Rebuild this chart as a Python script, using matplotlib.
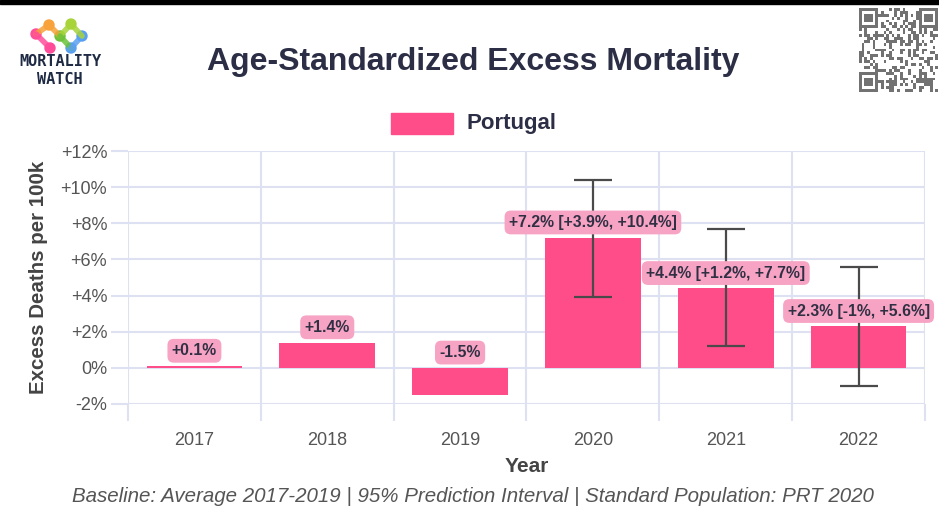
import numpy as np
import matplotlib
matplotlib.use("Agg")
import matplotlib.pyplot as plt
from matplotlib.patches import Rectangle, Circle

plt.rcParams['font.family'] = ['Liberation Sans', 'DejaVu Sans']

# excess mortality by year, % of baseline
years = ['2017', '2018', '2019', '2020', '2021', '2022']
excess = [0.1, 1.4, -1.5, 7.2, 4.4, 2.3]
pi_low = [None, None, None, 3.9, 1.2, -1.0]
pi_high = [None, None, None, 10.4, 7.7, 5.6]
yticks = [-2, 0, 2, 4, 6, 8, 10, 12]

bar_color = '#ff4d8a'
label_bg = '#f7a3c3'
grid_color = '#dde1f2'
text_dark = '#2b2e45'

W, H = 939, 529
fig = plt.figure(figsize=(W / 100, H / 100), dpi=100)
fig.patch.set_facecolor('white')

ax = fig.add_axes([128 / W, 1 - 404 / H, (925 - 128) / W, (404 - 151) / H])
x = np.arange(len(years))
ax.bar(x, excess, width=0.72, color=bar_color, zorder=2)

# prediction intervals only exist for the pandemic years
for i, (v, lo, hi) in enumerate(zip(excess, pi_low, pi_high)):
    if lo is not None:
        ax.errorbar(i, v, yerr=[[v - lo], [hi - v]], fmt='none',
                    ecolor='#4a4a4a', elinewidth=1.6, capsize=13.5,
                    capthick=1.6, zorder=4)

def fmt(v):
    if v == 0:
        return '0%'
    s = f'{v:+.1f}'.rstrip('0').rstrip('.')
    return s + '%'

for i, (v, lo, hi) in enumerate(zip(excess, pi_low, pi_high)):
    txt = fmt(v)
    if lo is not None:
        txt += f' [{fmt(lo)}, {fmt(hi)}]'
    ax.annotate(txt, (i, max(v, 0)), xytext=(0, 11), textcoords='offset points',
                ha='center', va='center', fontsize=11.3, fontweight='bold',
                color='#303044', zorder=5, annotation_clip=False,
                bbox=dict(boxstyle='round,pad=0.28,rounding_size=0.4',
                          fc=label_bg, ec='none'))

ax.set_xlim(-0.5, len(years) - 0.5)
ax.set_ylim(yticks[0], yticks[-1])
ax.set_yticks(yticks)
ax.set_yticklabels(['0%' if t == 0 else f'{t:+d}%' for t in yticks])
ax.set_xticks(x)
ax.set_xticklabels(years)
ax.set_xticks(np.arange(-0.5, len(years)), minor=True)

ax.tick_params(axis='y', length=12, width=1.5, color=grid_color, pad=3,
               labelsize=13, labelcolor='#555555')
ax.tick_params(axis='x', which='major', length=0, pad=20,
               labelsize=13, labelcolor='#555555')
ax.tick_params(axis='x', which='minor', length=12, width=1.5, color=grid_color)

ax.grid(axis='y', color=grid_color, lw=1.5, zorder=0)
ax.grid(axis='x', which='minor', color=grid_color, lw=1.5, zorder=0)
for s in ax.spines.values():
    s.set_visible(False)

ax.set_xlabel('Year', fontsize=15, fontweight='bold', color='#444444', labelpad=6)
ax.set_ylabel('Excess Deaths per 100k', fontsize=14.8, fontweight='bold',
              color='#444444', labelpad=9)

# title, legend and caption
fig.text(473 / W, 1 - 62 / H, 'Age-Standardized Excess Mortality',
         ha='center', va='center', fontsize=23, fontweight='bold', color=text_dark)
fig.text(473 / W, 1 - 497 / H,
         'Baseline: Average 2017-2019 | 95% Prediction Interval | Standard Population: PRT 2020',
         ha='center', va='center', fontsize=14.8, style='italic', color='#555555')

# overlay in pixel coordinates for legend, logo and qr block
ov = fig.add_axes([0, 0, 1, 1], zorder=10)
ov.set_xlim(0, W)
ov.set_ylim(H, 0)
ov.axis('off')
ov.patch.set_alpha(0)

ov.add_patch(Rectangle((0, 0), W, 4, color='black'))
ov.add_patch(Rectangle((391, 113), 62, 21, color=bar_color))
ov.text(466, 124, 'Portugal', ha='left', va='center', fontsize=16,
        fontweight='bold', color=text_dark)

# logo: small network of coloured nodes
nodes = {'o': (49, 25, '#f7a23b'), 'y': (71, 24, '#a8d43a'), 'p': (36, 34, '#ff4d9a'),
         'g': (60, 36, '#6cc23a'), 'b': (82, 36, '#5aa0f0'), 'p2': (50, 48, '#ff4d9a'),
         'b2': (71, 48, '#5aa0f0')}
links = [('o', 'p'), ('o', 'g'), ('y', 'g'), ('p', 'p2'), ('g', 'b2'), ('b', 'b2'), ('y', 'b')]
for a, b in links:
    ov.plot([nodes[a][0], nodes[b][0]], [nodes[a][1], nodes[b][1]],
            color=nodes[a][2], lw=4, solid_capstyle='round', alpha=0.85)
for nx, ny, c in nodes.values():
    ov.add_patch(Circle((nx, ny), 5, color=c))
ov.text(60, 62, 'MORTALITY', ha='center', va='center', fontsize=11,
        fontweight='bold', color='#1f2a44', family='DejaVu Sans Mono')
ov.text(60, 79, 'WATCH', ha='center', va='center', fontsize=11,
        fontweight='bold', color='#1f2a44', family='DejaVu Sans Mono')

# qr-like block
n = 29
ii, jj = np.meshgrid(np.arange(n), np.arange(n), indexing='ij')
qr = (((ii * 7 + jj * 13) ^ (ii * jj + 3)) % 5 < 2).astype(float)
for r0, c0 in [(0, 0), (0, n - 7), (n - 7, 0)]:
    qr[r0:r0 + 7, c0:c0 + 7] = 1
    qr[r0 + 1:r0 + 6, c0 + 1:c0 + 6] = 0
    qr[r0 + 2:r0 + 5, c0 + 2:c0 + 5] = 1
ov.imshow(qr, cmap='Greys', vmin=0, vmax=1.6, extent=(859, 938, 92, 8),
          interpolation='nearest', aspect='auto')
ov.set_xlim(0, W)
ov.set_ylim(H, 0)

fig.savefig('out.png', dpi=100)
